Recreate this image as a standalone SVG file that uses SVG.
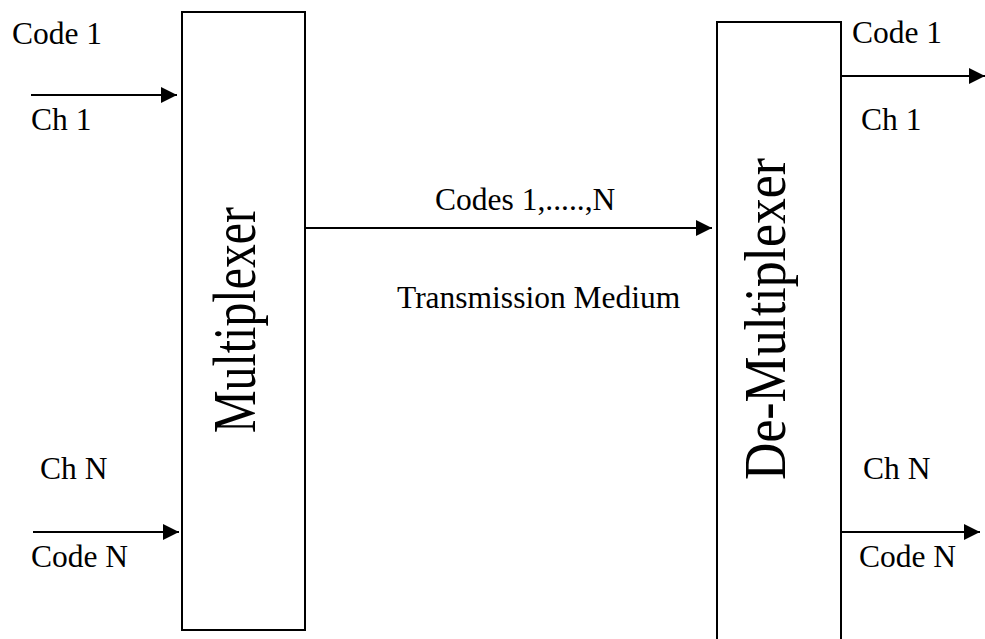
<svg xmlns="http://www.w3.org/2000/svg" width="985" height="639" viewBox="0 0 985 639">
  <style>
    .box { fill: #ffffff; stroke: #000000; stroke-width: 2; }
    .wire { fill: none; stroke: #000000; stroke-width: 2; }
    .lbl { font-family: "Liberation Serif", "Times New Roman", serif; font-size: 31.5px; fill: #000000; }
    .big { font-family: "Liberation Serif", "Times New Roman", serif; font-size: 50px; fill: #000000; }
  </style>
  <defs>
    <marker id="arrow" viewBox="0 0 16 16" refX="16" refY="8" markerWidth="16" markerHeight="16" markerUnits="userSpaceOnUse" orient="auto">
      <path d="M0,0 L16,8 L0,16 Z" fill="#000000"/>
    </marker>
  </defs>
  <rect width="985" height="639" fill="#ffffff"/>

  <g id="multiplexer">
    <rect class="box" x="182" y="12" width="123" height="618"/>
    <text class="big" transform="translate(255,433) rotate(-90) scale(1,1.22)" textLength="226" lengthAdjust="spacingAndGlyphs">Multiplexer</text>
  </g>

  <g id="demultiplexer">
    <rect class="box" x="717" y="22" width="124" height="630"/>
    <text class="big" transform="translate(785,480) rotate(-90) scale(1,1.18)" textLength="322" lengthAdjust="spacingAndGlyphs">De-Multiplexer</text>
  </g>

  <g id="connectors">
    <line class="wire" x1="31" y1="95" x2="177" y2="95" marker-end="url(#arrow)"/>
    <line class="wire" x1="33" y1="532" x2="179" y2="532" marker-end="url(#arrow)"/>
    <line class="wire" x1="305" y1="228" x2="712" y2="228" marker-end="url(#arrow)"/>
    <line class="wire" x1="841" y1="76" x2="985" y2="76" marker-end="url(#arrow)"/>
    <line class="wire" x1="841" y1="532" x2="980" y2="532" marker-end="url(#arrow)"/>
  </g>

  <g id="labels">
    <text class="lbl" x="12" y="44">Code 1</text>
    <text class="lbl" x="31" y="130">Ch 1</text>
    <text class="lbl" x="40" y="479">Ch N</text>
    <text class="lbl" x="31" y="567">Code N</text>
    <text class="lbl" x="852" y="43">Code 1</text>
    <text class="lbl" x="861" y="130">Ch 1</text>
    <text class="lbl" x="863" y="479">Ch N</text>
    <text class="lbl" x="859" y="567">Code N</text>
    <text class="lbl" x="435" y="210">Codes 1,.....,N</text>
    <text class="lbl" x="397" y="308">Transmission Medium</text>
  </g>
</svg>
